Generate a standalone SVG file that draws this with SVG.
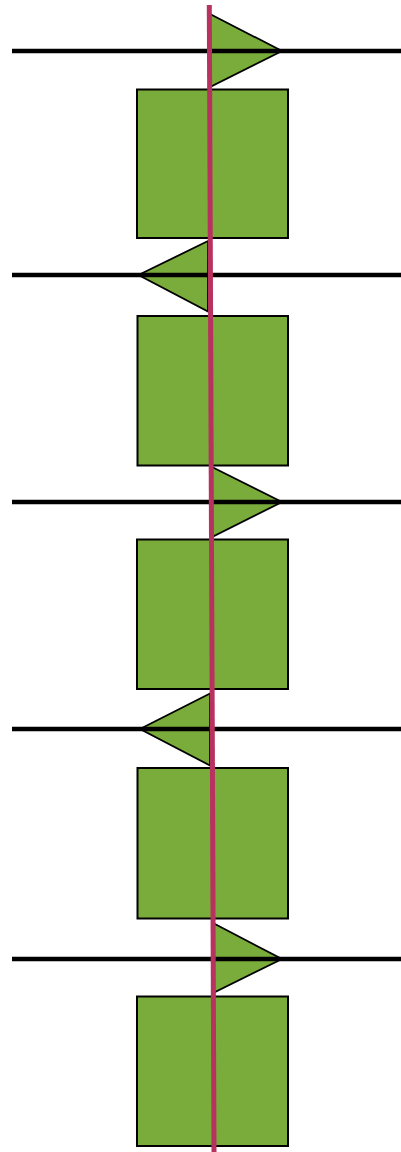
<svg xmlns="http://www.w3.org/2000/svg" width="401" height="1152" viewBox="0 0 401 1152">
<style>
.box{fill:#7aac3b;stroke:#000;stroke-width:2}
.tri{fill:#7aac3b;stroke:#000;stroke-width:1.8;stroke-linejoin:miter}
.rail{stroke:#000;stroke-width:4.5}
.axis{stroke:#b8325f;stroke-width:5}
</style>
<rect width="401" height="1152" fill="#fff"/>
<g id="triangles">
<polygon id="tri1" class="tri" points="210,14 282,51 210,87"/>
<polygon id="tri2" class="tri" points="208,241 138.5,275 208,311.5"/>
<polygon id="tri3" class="tri" points="212,467 282,502 212,537"/>
<polygon id="tri4" class="tri" points="210,693.5 140,729 210,765.5"/>
<polygon id="tri5" class="tri" points="213,923 282,959 213,993"/>
</g>
<g id="rails">
<line class="rail" x1="12" y1="51" x2="401" y2="51"/>
<line class="rail" x1="12" y1="275" x2="401" y2="275"/>
<line class="rail" x1="12" y1="502" x2="401" y2="502"/>
<line class="rail" x1="12" y1="729" x2="401" y2="729"/>
<line class="rail" x1="12" y1="959" x2="401" y2="959"/>
</g>
<g id="boxes">
<rect id="box1" class="box" x="137" y="89.5" width="151" height="148.5"/>
<rect id="box2" class="box" x="137.5" y="316" width="150.5" height="149.5"/>
<rect id="box3" class="box" x="137" y="539.5" width="151" height="149.5"/>
<rect id="box4" class="box" x="137.5" y="768" width="150.5" height="150.5"/>
<rect id="box5" class="box" x="137" y="996.5" width="151" height="149.5"/>
</g>
<g id="connectors">
<line class="axis" x1="209.3" y1="5" x2="214" y2="1152"/>
</g>
</svg>
